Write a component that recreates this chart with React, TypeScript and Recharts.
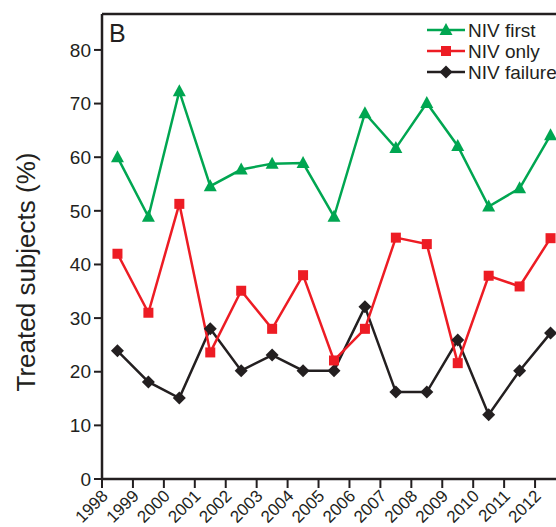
import React from 'react';
import { LineChart, Line, XAxis, YAxis, ReferenceLine } from 'recharts';

const years = [1998, 1999, 2000, 2001, 2002, 2003, 2004, 2005, 2006, 2007, 2008, 2009, 2010, 2011, 2012];
const nivFirst = [60, 48.9, 72.3, 54.6, 57.7, 58.8, 58.9, 48.9, 68.2, 61.7, 70.1, 62.1, 50.8, 54.2, 64.1];
const nivOnly = [42, 31, 51.3, 23.6, 35.1, 28, 38, 22.1, 28, 45, 43.8, 21.6, 37.9, 35.9, 44.9];
const nivFailure = [23.9, 18.1, 15.1, 28, 20.2, 23.1, 20.2, 20.2, 32.1, 16.2, 16.2, 25.9, 12, 20.2, 27.2];
const yTicks = [0, 10, 20, 30, 40, 50, 60, 70, 80];
const yMax = 86.7;

const INK = '#231f20';
const GREEN = '#00a651';
const RED = '#ed1c24';
const FONT = '"Liberation Sans", Arial, Helvetica, sans-serif';

// each year is a bin between two ticks, points sit in the middle of it
const data = years.map((year, i) => ({
  x: year + 0.5,
  first: nivFirst[i],
  only: nivOnly[i],
  failure: nivFailure[i],
}));

const Triangle = ({ cx, cy, fill }: any) => (
  <polygon points={`${cx},${cy - 7} ${cx - 6.5},${cy + 5} ${cx + 6.5},${cy + 5}`} fill={fill} />
);
const Square = ({ cx, cy, fill }: any) => <rect x={cx - 5} y={cy - 5} width={10} height={10} fill={fill} />;
const Diamond = ({ cx, cy, fill }: any) => (
  <polygon points={`${cx},${cy - 6.5} ${cx + 6.5},${cy} ${cx},${cy + 6.5} ${cx - 6.5},${cy}`} fill={fill} />
);

const XTick = ({ x, y, payload }: any) => {
  const ax = x + 7;
  const ay = y + 7;
  return (
    <text
      x={ax}
      y={ay}
      transform={`rotate(-45 ${ax} ${ay})`}
      textAnchor="end"
      fontSize={17}
      fill={INK}
      fontFamily={FONT}
    >
      {payload.value}
    </text>
  );
};

const legendItems = [
  { label: 'NIV first', color: GREEN, Marker: Triangle },
  { label: 'NIV only', color: RED, Marker: Square },
  { label: 'NIV failure', color: INK, Marker: Diamond },
];

export default function App() {
  return (
    <div style={{ position: 'fixed', left: 0, top: 0, width: 556, height: 527, overflow: 'hidden', background: '#fff' }}>
      <LineChart
        width={600}
        height={527}
        data={data}
        margin={{ top: 14, right: 34, bottom: 0, left: 0 }}
        style={{ fontFamily: FONT }}
      >
        <XAxis
          dataKey="x"
          type="number"
          domain={[1998, 2013]}
          ticks={years}
          interval={0}
          height={48}
          tickSize={9}
          tickMargin={2}
          tick={<XTick />}
          axisLine={{ stroke: INK, strokeWidth: 2.5 }}
          tickLine={{ stroke: INK, strokeWidth: 2 }}
        />
        <YAxis
          type="number"
          domain={[0, yMax]}
          ticks={yTicks}
          interval={0}
          width={102}
          tickSize={8}
          tickMargin={3}
          tick={{ fontSize: 19, fill: INK, fontFamily: FONT }}
          axisLine={{ stroke: INK, strokeWidth: 2.5 }}
          tickLine={{ stroke: INK, strokeWidth: 2 }}
        />
        <ReferenceLine y={yMax} stroke={INK} strokeWidth={2.5} />
        <Line
          dataKey="failure"
          stroke={INK}
          strokeWidth={2.5}
          isAnimationActive={false}
          dot={(p: any) => <Diamond key={`d${p.index}`} cx={p.cx} cy={p.cy} fill={INK} />}
        />
        <Line
          dataKey="only"
          stroke={RED}
          strokeWidth={2.5}
          isAnimationActive={false}
          dot={(p: any) => <Square key={`s${p.index}`} cx={p.cx} cy={p.cy} fill={RED} />}
        />
        <Line
          dataKey="first"
          stroke={GREEN}
          strokeWidth={2.5}
          isAnimationActive={false}
          dot={(p: any) => <Triangle key={`t${p.index}`} cx={p.cx} cy={p.cy} fill={GREEN} />}
        />
      </LineChart>
      <svg
        width={556}
        height={527}
        style={{ position: 'absolute', left: 0, top: 0, pointerEvents: 'none', fontFamily: FONT }}
      >
        <text x={109} y={41.5} fontSize={25} fill={INK}>B</text>
        <text
          x={35}
          y={272}
          transform="rotate(-90 35 272)"
          textAnchor="middle"
          fontSize={26}
          fill={INK}
        >
          Treated subjects (%)
        </text>
        {legendItems.map(({ label, color, Marker }, i) => {
          const cy = 30 + i * 21;
          return (
            <g key={label}>
              <line x1={427} x2={465} y1={cy} y2={cy} stroke={color} strokeWidth={2.5} />
              <Marker cx={446} cy={cy} fill={color} />
              <text x={468} y={cy + 7} fontSize={19} fill={INK}>{label}</text>
            </g>
          );
        })}
      </svg>
    </div>
  );
}
